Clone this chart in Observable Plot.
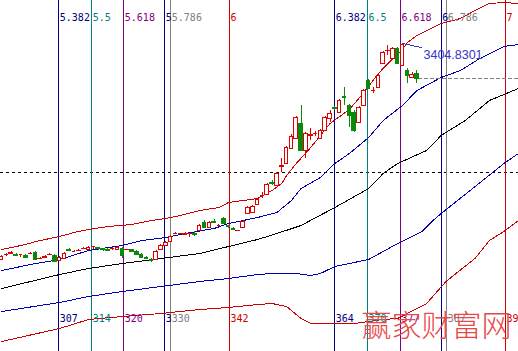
<!DOCTYPE html>
<html><head><meta charset="utf-8">
<script src="https://cdn.jsdelivr.net/npm/d3@7"></script>
<script src="https://cdn.jsdelivr.net/npm/@observablehq/plot@0.6"></script>
<style>html,body{margin:0;padding:0;background:#fff;overflow:hidden}svg{display:block;overflow:hidden}</style>
</head><body><div id="chart"></div>
<script>
// bar index of the first candle, one candle per bar
const firstBar = 294;
const open = [2325,2347.5,2355,2350,2350,2345,2352.5,2360,2327.5,2332.5,2347.5,2345,2320,2330,2372.5,2365,2367.5,2377.5,2375,2390,2382.5,2377.5,2375,2377.5,2372.5,2380,2372.5,2372.5,2365,2350,2335,2322.5,2325,2375,2395,2415,2452.5,2452.5,2450,2452.5,2455,2470,2510,2485,2515,2495,2530,2492.5,2477.5,2467.5,2485,2555,2560,2600,2642.5,2650,2710,2695,2790,2805,2880,2930,3005,2870,2945,2952.5,2930,2970,3030,3082.5,3060,3140,3095,3060,3010,3095,3220,3167.5,3185,3305,3367.5,3330,3380,3295,3270,3235,3255];
const high = [2345,2355,2365,2355,2350,2350,2360,2365,2335,2345,2355,2350,2340,2360,2380,2370,2375,2385,2390,2390,2385,2380,2380,2385,2390,2385,2377.5,2375,2370,2355,2340,2330,2370,2400,2415,2445,2460,2457.5,2460,2455,2465,2500,2520,2515,2525,2500,2535,2495,2485,2472.5,2520,2590,2595,2630,2660,2705,2720,2760,2830,2890,2950,3040,3095,2960,2980,2965,2975,3040,3070,3090,3125,3185,3100,3070,3090,3175,3225,3185,3250,3365,3395,3385,3385,3404.83,3280,3260,3270];
const low = [2320,2340,2350,2340,2335,2330,2350,2320,2325,2330,2345,2310,2315,2325,2365,2360,2365,2375,2370,2375,2370,2365,2365,2370,2370,2330,2370,2360,2345,2330,2325,2310,2320,2370,2390,2410,2450,2450,2445,2435,2440,2465,2480,2480,2505,2490,2500,2480,2470,2465,2480,2550,2555,2595,2630,2645,2695,2690,2760,2800,2875,2925,2865,2830,2920,2940,2925,2965,3010,3070,3055,3095,2985,2960,3005,3090,3175,3155,3180,3300,3345,3325,3300,3290,3205,3230,3205];
const close = [2340,2350,2360,2345,2350,2335,2355,2325,2330,2340,2350,2315,2335,2355,2370,2365,2370,2380,2385,2390,2377.5,2372.5,2370,2380,2385,2345,2375,2365,2350,2335,2330,2320,2365,2395,2410,2440,2455,2455,2452.5,2455,2450,2495,2485,2510,2510,2495,2505,2487.5,2475,2470,2515,2585,2590,2625,2645,2700,2705,2755,2792.5,2885,2940,3035,2870,2955,2950,2955,2970,3035,3055,3077.5,3120,3135,3045,2970,3085,3170,3180,3170,3245,3360,3370,3380,3305,3400,3245,3250,3230];

// envelope / moving-average lines: bar index and value
const redUpBar = [294,298,302,306,309,312,316,321,325,328,331,335,339,341,344,347,350,352,353,355,358,359,362,366,369,372,375,377,378,380,382,385,389,392,395,398,401];
const redUpVal = [2375,2395,2420,2440,2460,2475,2490,2500,2520,2530,2545,2570,2585,2610,2620,2630,2670,2705,2745,2805,2885,2915,3005,3075,3160,3255,3330,3375,3410,3445,3470,3505,3530,3570,3605,3610,3605];
const blueUpBar = [294,300,306,312,319,323,328,332,338,341,347,351,354,356,360,363,366,370,373,377,380,385,389,393,398,401];
const blueUpVal = [2270,2300,2325,2370,2395,2420,2435,2455,2480,2505,2535,2560,2620,2680,2735,2805,2855,2935,3020,3095,3170,3235,3270,3330,3390,3400];
const blackBar = [294,300,306,312,319,327,335,341,347,351,356,363,370,373,376,382,385,390,395,401];
const blackVal = [2180,2215,2250,2280,2305,2330,2355,2390,2425,2455,2495,2585,2680,2755,2805,2870,2945,3020,3120,3180];
const blueLoBar = [294,306,312,319,327,335,341,347,350,355,358,360,363,370,376,381,384,391,398,401];
const blueLoVal = [2065,2110,2140,2165,2190,2215,2230,2250,2255,2255,2245,2255,2290,2325,2405,2465,2535,2670,2805,2855];
const redLoBar = [294,306,312,319,327,335,341,347,350,353,356,358,367,373,376,382,386,392,395,398,401];
const redLoVal = [1915,1980,2025,2040,2055,2075,2085,2100,2105,2090,2030,2005,2005,2025,2030,2105,2215,2330,2420,2465,2520];

// time-zone vertical lines
const vPos = [305.84,312.67,319.30,327.79,329.03,341.18,362.98,369.75,376.59,385.01,386.17,398.33];
const vColor = ["#000080","#008080","#800080","#000080","#808080","#cc0000","#000080","#008080","#800080","#000080","#808080","#cc0000"];
const topLabels = ["5.382","5.5","5.618","5","5.786","6","6.382","6.5","6.618","6","6.786","7"];
const bottomLabels = ["307","314","320","3","330","342","364","370","377","","387","399"];

const refLevel = 2760;           // black dashed horizontal
const highLabel = "3404.8301";
const watermark = "赢家财富网";

const candles = open.map((o, j) => ({i: firstBar + j, o, h: high[j], l: low[j], c: close[j]}));
const RED = "#e00000", GREEN = "#0a8a0a";
const col = d => d.c > d.o ? RED : d.c < d.o ? GREEN : RED;
const bodies = candles.filter(d => d.c !== d.o);
const dojis = candles.filter(d => d.c === d.o);
const pts = (bars, vals) => bars.map((x, j) => ({x, y: vals[j]}));
const vlines = vPos.map((x, j) => ({x, color: vColor[j], top: topLabels[j], bottom: bottomLabels[j]}));
const last = candles[candles.length - 1];
const hi = candles.reduce((a, b) => b.h > a.h ? b : a);
const X0 = 293.77, X1 = 401.02;
const W = 0.37;
const crisp = {shapeRendering: "crispEdges"};

const chart = Plot.plot({
  width: 518, height: 351, margin: 0,
  style: {background: "#fff", overflow: "hidden"},
  x: {domain: [X0, X1], axis: null},
  y: {domain: [1865, 3620], axis: null},
  marks: [
    Plot.ruleY([refLevel], {stroke: "#000", strokeDasharray: "3,3", strokeWidth: 1, ...crisp}),
    Plot.ruleX(vlines, {x: "x", stroke: "color", strokeWidth: 1, ...crisp}),
    Plot.line(pts(redUpBar, redUpVal), {x: "x", y: "y", stroke: "#cc0000", strokeWidth: 1, ...crisp}),
    Plot.line(pts(blueUpBar, blueUpVal), {x: "x", y: "y", stroke: "#0000b0", strokeWidth: 1, ...crisp}),
    Plot.line(pts(blackBar, blackVal), {x: "x", y: "y", stroke: "#000", strokeWidth: 1, ...crisp}),
    Plot.line(pts(blueLoBar, blueLoVal), {x: "x", y: "y", stroke: "#0000b0", strokeWidth: 1, ...crisp}),
    Plot.line(pts(redLoBar, redLoVal), {x: "x", y: "y", stroke: "#cc0000", strokeWidth: 1, ...crisp}),
    Plot.ruleY([last], {y: "c", x1: d => d.i + 0.4, x2: X1, stroke: "#808080", strokeDasharray: "4,2", strokeWidth: 1, ...crisp}),
    Plot.ruleX(candles, {x: "i", y1: "l", y2: "h", stroke: col, strokeWidth: 1, ...crisp}),
    Plot.rect(bodies, {x1: d => d.i - W, x2: d => d.i + W, y1: "o", y2: "c",
      fill: d => d.c > d.o ? "#fff" : GREEN, stroke: col, strokeWidth: 1, ...crisp}),
    Plot.ruleY(dojis, {y: "c", x1: d => d.i - W, x2: d => d.i + W, stroke: RED, strokeWidth: 1, ...crisp}),
    Plot.link([hi], {x1: "i", y1: "h", x2: d => d.i + 4, y2: d => d.h - 20, stroke: "#3535c8", strokeWidth: 1, ...crisp}),
    Plot.text([hi], {x: "i", y: "h", text: () => highLabel, dx: 21, dy: 11, textAnchor: "start",
      fill: "#3535c8", fontSize: 12.5, fontFamily: "Liberation Sans, Arial, sans-serif"}),
    Plot.text(vlines, {x: "x", frameAnchor: "top", text: "top", dx: 1, dy: 17.5, textAnchor: "start",
      lineAnchor: "middle", fill: "color", fontSize: 10, fontFamily: "DejaVu Sans Mono, monospace"}),
    Plot.text(vlines, {x: "x", frameAnchor: "bottom", text: "bottom", dx: 1, dy: -32.5, textAnchor: "start",
      lineAnchor: "middle", fill: "color", fontSize: 10, fontFamily: "DejaVu Sans Mono, monospace"}),
    Plot.text([watermark], {frameAnchor: "bottom-right", text: d => d, dx: -7, dy: -25, textAnchor: "end",
      lineAnchor: "middle", fill: "#e84848", fontSize: 30, fontWeight: 300, fontFamily: "Noto Sans CJK SC, sans-serif"})
  ]
});
document.getElementById("chart").append(chart);
</script>
</body></html>
